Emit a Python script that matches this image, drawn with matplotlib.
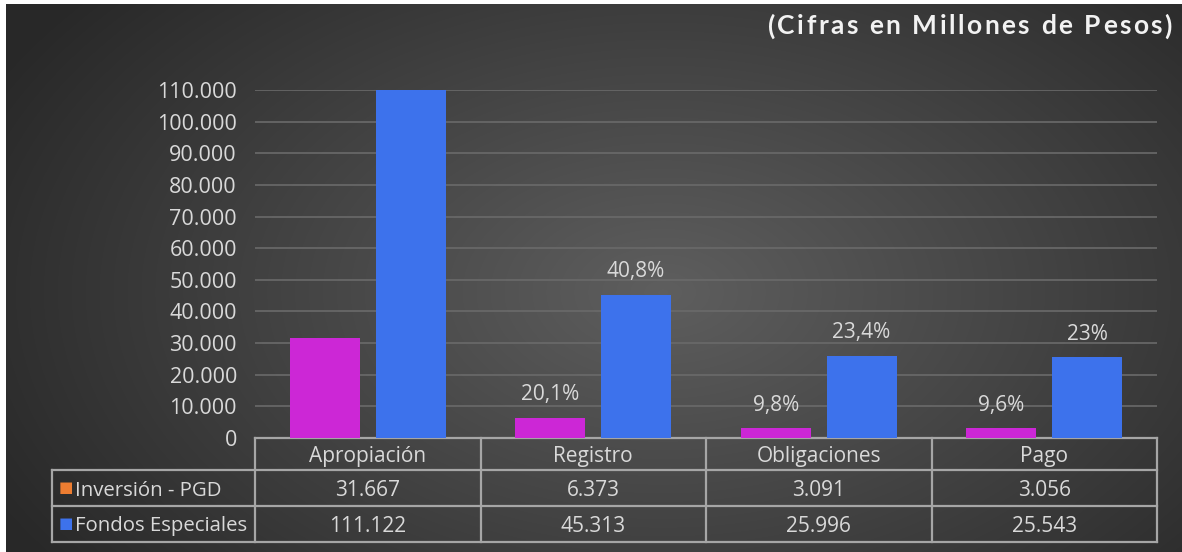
import numpy as np
import matplotlib
matplotlib.use("Agg")
import matplotlib.pyplot as plt
import matplotlib.transforms as mtransforms
from matplotlib.ticker import FuncFormatter

categorias = ["Apropiación", "Registro", "Obligaciones", "Pago"]
inversion_pgd = [31667, 6373, 3091, 3056]
fondos_especiales = [111122, 45313, 25996, 25543]
pct_inversion = ["", "20,1%", "9,8%", "9,6%"]
pct_fondos = ["", "40,8%", "23,4%", "23%"]
series = ["Inversión - PGD", "Fondos Especiales"]

W, H = 1182, 552
plt.rcParams['font.family'] = ['Open Sans', 'DejaVu Sans']
fig = plt.figure(figsize=(W / 100, H / 100), dpi=100, facecolor='white')

# fondo con degradado radial oscuro
bg = fig.add_axes([6 / W, 0, 1 - 6 / W, 1 - 4 / H])
yy, xx = np.mgrid[0:H, 0:W]
d = np.sqrt(((xx - 660) / 680.0) ** 2 + ((yy - 290) / 420.0) ** 2)
g = np.clip(0.37 - 0.19 * d, 0.16, 0.37)
bg.imshow(np.dstack([g, g, g]), aspect='auto', extent=[0, 1, 0, 1])
bg.axis('off')

ax = fig.add_axes([255 / W, 1 - 438 / H, 902 / W, 348 / H])
ax.patch.set_alpha(0)
x = np.arange(len(categorias))
bw = 0.31
off = 0.19
c_mag = '#cc27d6'
c_blue = '#3d72ec'
txt = '#d9d9d9'
ax.bar(x - off, inversion_pgd, bw, color=c_mag, zorder=3)
ax.bar(x + off, fondos_especiales, bw, color=c_blue, zorder=3)
ax.set_xlim(-0.5, len(categorias) - 0.5)
ax.set_ylim(0, 110000)
ax.set_yticks(np.arange(0, 110001, 10000))
ax.yaxis.set_major_formatter(FuncFormatter(lambda v, p: f"{int(v):,}".replace(",", ".")))
ax.tick_params(axis='y', colors=txt, labelsize=15.5, length=0, pad=13)
ax.set_xticks([])
ax.grid(axis='y', color='#6a6a6a', linewidth=1.2, zorder=0)
for s in ax.spines.values():
    s.set_visible(False)

for i in range(len(categorias)):
    if pct_inversion[i]:
        ax.annotate(pct_inversion[i], (x[i] - off, inversion_pgd[i]), xytext=(0, 9),
                    textcoords='offset points', ha='center', va='bottom',
                    color=txt, fontsize=15)
    if pct_fondos[i]:
        ax.annotate(pct_fondos[i], (x[i] + off, fondos_especiales[i]), xytext=(0, 9),
                    textcoords='offset points', ha='center', va='bottom',
                    color=txt, fontsize=15)

# tabla de datos dibujada a mano (x en datos, y en ejes)
tr = mtransforms.blended_transform_factory(ax.transData, ax.transAxes)
ph = 348.0
x_lab = -0.5 - 203 / 225.5   # borde izquierdo de la columna de etiquetas
y_h = -32 / ph
y_r1 = -(32 + 36) / ph
y_r2 = -(32 + 72) / ph
dy = -2.5 / ph
lc = '#a6a6a6'
lw = 1.6
kw = dict(transform=tr, color=lc, lw=lw, clip_on=False, solid_capstyle='projecting')
ax.plot([-0.5, 3.5], [0, 0], **kw)
for yv in (y_h, y_r1, y_r2):
    ax.plot([x_lab, 3.5], [yv, yv], **kw)
for xv in np.arange(-0.5, 3.51, 1.0):
    ax.plot([xv, xv], [0, y_r2], **kw)
ax.plot([x_lab, x_lab], [y_h, y_r2], **kw)

for i, cat in enumerate(categorias):
    ax.text(x[i], y_h / 2 + dy, cat, transform=tr, ha='center', va='center', color=txt, fontsize=15)
    ax.text(x[i], (y_h + y_r1) / 2 + dy, f"{inversion_pgd[i]:,}".replace(",", "."), transform=tr,
            ha='center', va='center', color=txt, fontsize=15)
    ax.text(x[i], (y_r1 + y_r2) / 2 + dy, f"{fondos_especiales[i]:,}".replace(",", "."), transform=tr,
            ha='center', va='center', color=txt, fontsize=15)

sq = [('#ed7d31', (y_h + y_r1) / 2), (c_blue, (y_r1 + y_r2) / 2)]
for (col, yv), name in zip(sq, series):
    ax.text(x_lab + 7 / 225.5, yv, "■", transform=tr, color=col, fontsize=11,
            ha='left', va='center')
    ax.text(x_lab + 23 / 225.5, yv + dy, name, transform=tr, color=txt, fontsize=14.7,
            ha='left', va='center')

# titulo con espaciado entre letras
titulo = "(Cifras en Millones de Pesos)"
fig.canvas.draw()
r = fig.canvas.get_renderer()
tracking = 2.4
parts = []
for ch in titulo:
    t = fig.text(0, 1 - 26 / H, ch, ha='left', va='center', color='#f2f2f2',
                 fontsize=19, fontweight='bold', family=['Lato', 'DejaVu Sans'])
    parts.append(t)
widths = [p.get_window_extent(r).width if ch != ' ' else 7 for p, ch in zip(parts, titulo)]
total = sum(widths) + tracking * (len(titulo) - 1)
xp = 1172 - total
for p, w in zip(parts, widths):
    p.set_x(xp / W)
    xp += w + tracking

fig.savefig("out.png", dpi=100, facecolor=fig.get_facecolor())
